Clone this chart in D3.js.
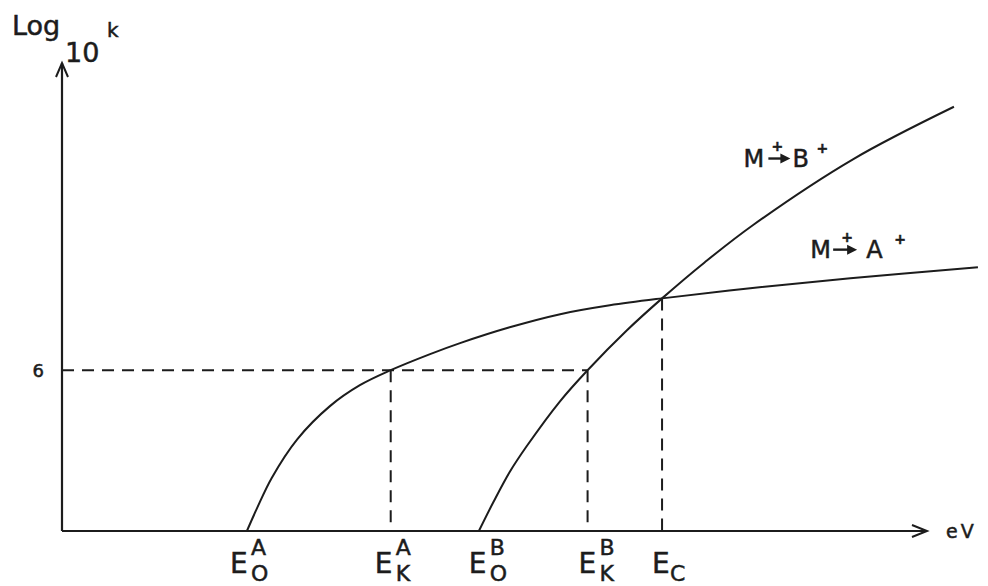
<!DOCTYPE html>
<html>
<head>
<meta charset="utf-8">
<script src="https://cdn.jsdelivr.net/npm/d3@7"></script>
<style>
  html, body { margin: 0; padding: 0; background: #fff; }
  svg { display: block; }
  text { font-family: "DejaVu Sans", "Liberation Sans", sans-serif; fill: #1c1c1c; stroke: #1c1c1c; stroke-width: 0.5; }
</style>
</head>
<body>
<svg id="chart" width="988" height="586"></svg>
<script>
// Energy (arbitrary eV units) and log10 k for the two fragmentation channels
const channelA_eV   = [2.16, 2.28, 2.45, 2.75, 3.13, 3.48, 3.84, 4.30, 4.65, 5.23, 5.82, 6.40, 7.01, 8.04, 9.21, 10.70];
const channelA_logk = [0.00, 0.86, 1.98, 3.43, 4.66, 5.44, 6.00, 6.60, 7.01, 7.60, 8.09, 8.42, 8.68, 9.06, 9.43, 9.84];
const channelB_eV   = [4.87, 5.04, 5.23, 5.43, 5.82, 6.14, 6.60, 7.01, 7.51, 8.07, 9.24, 10.42];
const channelB_logk = [0.00, 1.08, 2.20, 3.17, 4.85, 6.00, 7.49, 8.68, 10.03, 11.41, 13.87, 15.83];

// Reference level of log10 k and the marked energies on the axis
const logkLevel = 6;
const yTickLabels = ["6"];
const energyMarks = [
  { key: "E0A", base: "E", sup: "A", sub: "O", eV: 2.16, logk: 0 },
  { key: "EKA", base: "E", sup: "A", sub: "K", eV: 3.84, logk: 6 },
  { key: "E0B", base: "E", sup: "B", sub: "O", eV: 4.87, logk: 0 },
  { key: "EKB", base: "E", sup: "B", sub: "K", eV: 6.14, logk: 6 },
  { key: "EC",  base: "E", sup: "",  sub: "C", eV: 7.01, logk: 8.68 }
];
const channelLabels = [
  { key: "B", from: "M", to: "B", eV: 7.96, logk: 13.6 },
  { key: "A", from: "M", to: "A", eV: 8.74, logk: 10.2 }
];

// layout nudges (px) for lettering
const labelNudge = { E0A: -7, EKA: -6, E0B: 0, EKB: 1, EC: 0 };
const channelLayout = {
  B: { plus1: 28, arrow0: 25, arrow1: 47, to: 49, plus2: 73 },
  A: { plus1: 31, arrow0: 23, arrow1: 47, to: 56, plus2: 84 }
};

const svg = d3.select("#chart");
const ink = "#1c1c1c";

const x = d3.scaleLinear().domain([0, 10]).range([62, 918]);
const y = d3.scaleLinear().domain([0, 17.5]).range([531, 62]);

// axes with open arrowheads
const x0 = x(0), y0 = y(0);
const xEnd = 927, yTop = 63;
svg.append("path")
  .attr("d", `M${x0},${y0}L${xEnd},${y0}`)
  .attr("stroke", ink).attr("stroke-width", 2.2).attr("fill", "none");
svg.append("path")
  .attr("d", `M${xEnd - 15},${y0 - 6}L${xEnd},${y0}L${xEnd - 15},${y0 + 6}`)
  .attr("stroke", ink).attr("stroke-width", 2).attr("fill", "none");
svg.append("path")
  .attr("d", `M${x0},${y0}L${x0},${yTop}`)
  .attr("stroke", ink).attr("stroke-width", 2.2).attr("fill", "none");
svg.append("path")
  .attr("d", `M${x0 - 6},${yTop + 14}L${x0},${yTop}L${x0 + 6},${yTop + 14}`)
  .attr("stroke", ink).attr("stroke-width", 2).attr("fill", "none");

// dashed guides
const dash = "12,8";
const eKB = energyMarks.find(d => d.key === "EKB");
svg.append("line")
  .attr("x1", x0).attr("x2", x(eKB.eV))
  .attr("y1", y(logkLevel)).attr("y2", y(logkLevel))
  .attr("stroke", ink).attr("stroke-width", 2).attr("stroke-dasharray", dash);
energyMarks.filter(d => d.logk > 0).forEach(d => {
  svg.append("line")
    .attr("x1", x(d.eV)).attr("x2", x(d.eV))
    .attr("y1", y(d.logk)).attr("y2", y0)
    .attr("stroke", ink).attr("stroke-width", 2).attr("stroke-dasharray", dash);
});

// curves
const line = d3.line().x(d => x(d[0])).y(d => y(d[1])).curve(d3.curveCatmullRom.alpha(0.5));
const seriesA = d3.zip(channelA_eV, channelA_logk);
const seriesB = d3.zip(channelB_eV, channelB_logk);
[seriesA, seriesB].forEach(s => {
  svg.append("path").attr("d", line(s))
    .attr("fill", "none").attr("stroke", ink).attr("stroke-width", 2);
});

// y tick label
svg.selectAll(".ytick").data(yTickLabels).join("text")
  .attr("class", "ytick")
  .attr("x", x0 - 18).attr("y", d => y(+d) + 7)
  .attr("text-anchor", "end")
  .attr("font-size", 18)
  .text(d => d);

// y axis title: Log10 k
svg.append("text").attr("x", 12).attr("y", 35).attr("font-size", 27).text("Log");
svg.append("text").attr("x", 65).attr("y", 62).attr("font-size", 27).text("10");
svg.append("text").attr("x", 107).attr("y", 37).attr("font-size", 20).text("k");

// x axis title
svg.append("text").attr("x", 946).attr("y", 538).attr("font-size", 19)
  .attr("letter-spacing", 3).text("eV");

// energy labels on the x axis: E with stacked super/subscripts
energyMarks.forEach(d => {
  const ex = x(d.eV) - 10 + labelNudge[d.key];
  svg.append("text").attr("x", ex).attr("y", 573).attr("font-size", 28).text(d.base);
  if (d.sup) {
    svg.append("text").attr("x", ex + 21).attr("y", 555).attr("font-size", 22).text(d.sup);
    svg.append("text").attr("x", ex + 21).attr("y", 581).attr("font-size", 22).text(d.sub);
  } else {
    svg.append("text").attr("x", ex + 18).attr("y", 581).attr("font-size", 22).text(d.sub);
  }
});

// channel labels M+ -> X+
channelLabels.forEach(d => {
  const L = channelLayout[d.key];
  const lx = x(d.eV), ly = y(d.logk);
  const g = svg.append("g").attr("transform", `translate(${lx},${ly})`);
  g.append("text").attr("x", 0).attr("y", 0).attr("font-size", 24).text(d.from);
  g.append("text").attr("x", L.plus1).attr("y", -16).attr("font-size", 14).attr("font-weight", "bold").text("+");
  g.append("path")
    .attr("d", `M${L.arrow0},-8L${L.arrow1 - 8},-8`)
    .attr("stroke", ink).attr("stroke-width", 2.4).attr("fill", "none");
  g.append("path")
    .attr("d", `M${L.arrow1 - 10},-13L${L.arrow1},-8L${L.arrow1 - 10},-3Z`)
    .attr("fill", ink).attr("stroke", "none");
  g.append("text").attr("x", L.to).attr("y", 0).attr("font-size", 24).text(d.to);
  g.append("text").attr("x", L.plus2).attr("y", -14).attr("font-size", 14).attr("font-weight", "bold").text("+");
});
</script>
</body>
</html>
